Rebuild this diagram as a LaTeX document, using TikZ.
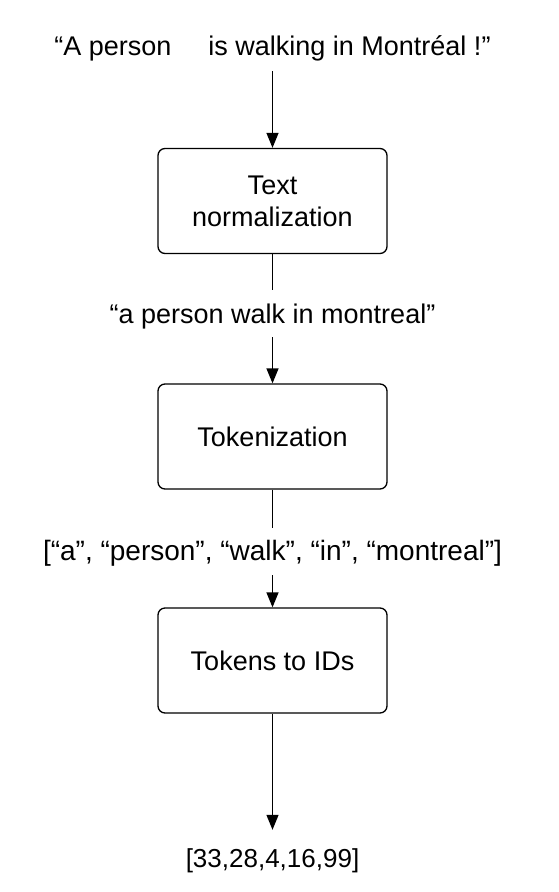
\documentclass[tikz,border=0pt]{standalone}
\usepackage{fontspec}
\setmainfont{Liberation Sans}
\usetikzlibrary{arrows.meta}
\begin{document}
\begin{tikzpicture}[x=1pt,y=1pt,
  every node/.style={font=\fontsize{27}{32}\selectfont},
  label/.style={anchor=base, inner sep=0pt, text height=18pt, text depth=6pt},
  procbox/.style={draw, line width=1.3pt, rounded corners=7pt, minimum width=229pt, minimum height=105pt, inner sep=0pt, align=center},
  conn/.style={line width=1.3pt},
  arr/.style={conn, -{Triangle[length=15pt,width=12pt]}}]
\useasboundingbox (0,0) rectangle (558,-892);
\node[label] (t1) at (272.5,-55) {“A person\hspace{37pt}is walking in Montréal !”};
\node[procbox] (b1) at (272.5,-201) {Text\\normalization};
\node[label] (t2) at (272.5,-323) {“a person walk in montreal”};
\node[procbox] (b2) at (272.5,-436.5) {Tokenization};
\node[label, font=\fontsize{28}{32}\selectfont] (t3) at (272.5,-560) {[“a”, “person”, “walk”, “in”, “montreal”]};
\node[procbox] (b3) at (272.5,-660.5) {Tokens to IDs};
\node[label, font=\fontsize{26}{32}\selectfont] (t4) at (272.5,-867) {[33,28,4,16,99]};
\draw[arr, shorten <=10pt] (t1.south) -- (b1.north);
\draw[conn, shorten >=15pt] (b1.south) -- (t2.north);
\draw[arr, shorten <=8pt] (t2.south) -- (b2.north);
\draw[conn, shorten >=14pt] (b2.south) -- (t3.north);
\draw[arr, shorten <=9pt] (t3.south) -- (b3.north);
\draw[arr, shorten >=19pt] (b3.south) -- (t4.north);
\end{tikzpicture}
\end{document}
